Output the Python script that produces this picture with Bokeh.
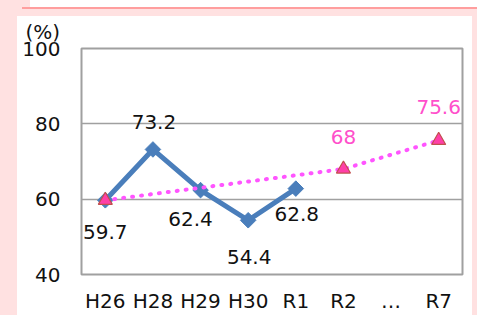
from bokeh.plotting import figure
from bokeh.models import FactorRange, Range1d, FixedTicker, ColumnDataSource
from bokeh.embed import file_html
from bokeh.resources import INLINE
from bokeh.core.properties import value

# ---- data ----
categories = ["H26", "H28", "H29", "H30", "R1", "R2", "…", "R7"]
actual_years = ["H26", "H28", "H29", "H30", "R1"]
actual_values = [59.7, 73.2, 62.4, 54.4, 62.8]
target_years = ["H26", "R2", "R7"]
target_values = [59.7, 68, 75.6]
y_ticks = [40, 60, 80, 100]
y_unit = "(%)"

# ---- label placement (screen pixel offsets, styling only) ----
actual_dx = [0, 1, -10, 1, 1]
actual_dy = [32, -27, 29, 37, 25]
target_dx = [0, 0, 0]
target_dy = [0, -32, -33]
target_show = [False, True, True]

FONT = "DejaVu Sans"
FS = "20px"
BLUE = "#4A7EBB"
PINK_LINE = "#FF55FF"
PINK_FILL = "#FF3FA8"
PINK_EDGE = "#C0504D"
PINK_TEXT = "#FF4FCB"
GRID = "#A0A0A0"

p = figure(
    width=477, height=315,
    x_range=FactorRange(*categories, range_padding=0),
    y_range=Range1d(40, 100),
    output_backend="svg", toolbar_location=None,
    min_border_left=81, min_border_right=15,
    min_border_top=48, min_border_bottom=39,
)
p.styles = {
    "background": (
        "linear-gradient(#ffffff,#ffffff) 17px 16px / 455px 100% no-repeat, "
        "linear-gradient(#ff9e9e,#ff9e9e) 22px 7px / 100% 2px no-repeat, "
        "radial-gradient(circle at 30px -6px, #ffffff 0 12px, #ff9e9e 12px 14px, transparent 14px) 16px 0 / 16px 9px no-repeat, "
        "linear-gradient(#ffffff,#ffffff) 30px 0 / 100% 7px no-repeat, "
        "#ffe1e1"
    )
}
p.border_fill_alpha = 0
p.background_fill_color = "white"
p.outline_line_color = GRID
p.outline_line_width = 2

p.xgrid.grid_line_color = None
p.ygrid.grid_line_color = GRID
p.ygrid.grid_line_width = 1.5
p.yaxis.ticker = FixedTicker(ticks=y_ticks)

for ax in (p.xaxis, p.yaxis):
    ax.axis_line_color = None
    ax.major_tick_line_color = None
    ax.minor_tick_line_color = None
    ax.major_tick_out = 0
    ax.major_tick_in = 0
    ax.major_label_text_font = FONT
    ax.major_label_text_font_size = FS
    ax.major_label_text_color = "#111111"
p.yaxis.major_label_standoff = 21
p.xaxis.major_label_standoff = 14

# unit label as a left-aligned title
p.title.text = y_unit
p.title.align = "left"
p.title.offset = -56
p.title.standoff = 10
p.title.text_font = FONT
p.title.text_font_size = FS
p.title.text_font_style = "normal"
p.title.text_color = "#111111"

# actual series
p.line(actual_years, actual_values, line_color=BLUE, line_width=5, line_join="miter")
p.scatter(actual_years, actual_values, marker="square", size=11, angle=0.785398,
          fill_color=BLUE, line_color=BLUE)

# target series
p.line(target_years, target_values, line_color=PINK_LINE, line_width=4,
       line_dash="1 8", line_cap="round")
p.scatter(target_years, target_values, marker="triangle", size=14,
          fill_color=PINK_FILL, line_color=PINK_EDGE, line_width=1.2)

# data labels
src_a = ColumnDataSource(dict(x=actual_years, y=actual_values,
                              t=[f"{v:g}" for v in actual_values],
                              dx=actual_dx, dy=actual_dy))
p.text(x="x", y="y", text="t", x_offset="dx", y_offset="dy", source=src_a,
       text_font=value(FONT), text_font_size=FS, text_color="#111111",
       text_align="center", text_baseline="middle")

tx = [x for x, s in zip(target_years, target_show) if s]
ty = [y for y, s in zip(target_values, target_show) if s]
tdx = [d for d, s in zip(target_dx, target_show) if s]
tdy = [d for d, s in zip(target_dy, target_show) if s]
src_t = ColumnDataSource(dict(x=tx, y=ty, t=[f"{v:g}" for v in ty], dx=tdx, dy=tdy))
p.text(x="x", y="y", text="t", x_offset="dx", y_offset="dy", source=src_t,
       text_font=value(FONT), text_font_size=FS, text_color=PINK_TEXT,
       text_align="center", text_baseline="middle")

open("out.html", "w").write(file_html(p, INLINE))
